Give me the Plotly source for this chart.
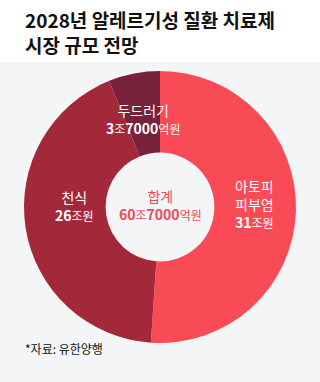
import plotly.graph_objects as go

categories = ["아토피 피부염", "천식", "두드러기"]
values = [31.0, 26.0, 3.7]  # 조원
colors = ["#f84b55", "#a2283a", "#78213a"]

W, H = 320, 382
FONT = "Noto Sans CJK KR"

def px(x):
    return x / W

def py(y):
    return 1 - y / H

cx, cy, r = 160, 207, 136

fig = go.Figure(go.Pie(
    labels=categories, values=values, sort=False, direction="clockwise",
    rotation=0, hole=0.40, textinfo="none", hoverinfo="label+value",
    marker=dict(colors=colors, line=dict(width=0)),
    domain=dict(x=[px(cx - r), px(cx + r)], y=[py(cy + r), py(cy - r)]),
    showlegend=False,
))

def ann(x, y, text, color="white", size=14, align="center", xanchor="center"):
    fig.add_annotation(x=px(x), y=py(y), xref="paper", yref="paper", text=text,
                       showarrow=False, xanchor=xanchor, yanchor="middle", align=align,
                       font=dict(family=FONT, size=size, color=color))

def money(num_parts):
    out = ""
    for t, b in num_parts:
        if b:
            out += f"<b><span style='font-size:14px'>{t}</span></b>"
        else:
            out += f"<span style='font-size:12px'>{t}</span>"
    return out

# 두드러기
ann(143, 119, "두드러기<br>" + money([("3", True), ("조", False), ("7000", True), ("억원", False)]))
# 천식
ann(74, 206, "천식<br>" + money([("26", True), ("조원", False)]))
# 아토피 피부염
ann(233, 204, "아토피<br>피부염<br>" + money([("31", True), ("조원", False)]),
    xanchor="left", align="left")
# 합계
ann(160, 205, "합계<br>" + money([("60", True), ("조", False), ("7000", True), ("억원", False)]),
    color="#f04a55")

# title
fig.add_annotation(x=px(23), y=py(4), xref="paper", yref="paper",
                   text="<b>2028년 알레르기성 질환 치료제<br>시장 규모 전망</b>",
                   showarrow=False, xanchor="left", yanchor="top", align="left",
                   font=dict(family=FONT, size=19, color="#111111"))
# source
fig.add_annotation(x=px(23), y=py(348), xref="paper", yref="paper",
                   text="*자료: 유한양행", showarrow=False, xanchor="left", yanchor="middle",
                   font=dict(family=FONT, size=12, color="#111111"))

fig.add_shape(type="rect", xref="paper", yref="paper", x0=0, x1=1, y0=0, y1=py(62),
              fillcolor="#f4f5f7", line=dict(width=0), layer="below")

fig.update_layout(width=W, height=H, margin=dict(l=0, r=0, t=0, b=0),
                  paper_bgcolor="white", plot_bgcolor="white")
fig.write_html("out.html")
